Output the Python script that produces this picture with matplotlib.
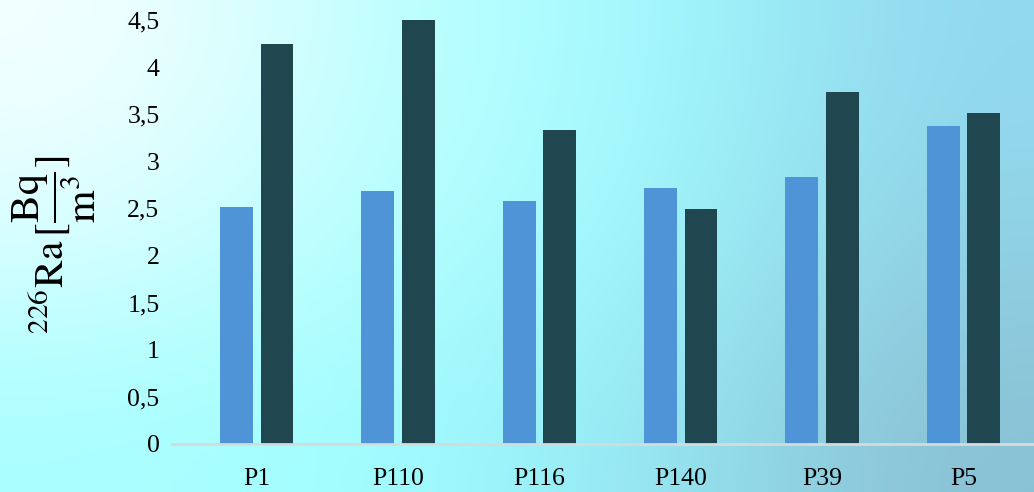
import numpy as np
import matplotlib
matplotlib.use("Agg")
import matplotlib.pyplot as plt
from matplotlib.colors import to_rgb

categories = ["P1", "P110", "P116", "P140", "P39", "P5"]
series_a = [2.52, 2.69, 2.58, 2.72, 2.83, 3.37]
series_b = [4.25, 4.50, 3.33, 2.49, 3.74, 3.51]
yticks = [0, 0.5, 1, 1.5, 2, 2.5, 3, 3.5, 4, 4.5]
ytick_labels = ["0", "0,5", "1", "1,5", "2", "2,5", "3", "3,5", "4", "4,5"]

plt.rcParams['mathtext.fontset'] = 'stix'
W, H = 1034, 492
fig = plt.figure(figsize=(W / 100, H / 100), dpi=100)

# background gradient
bg = fig.add_axes([0, 0, 1, 1])
anchors = [
    ["#F4FFFF", "#BEFFFF", "#A2FCFF", "#92D8EE"],
    ["#D8FFFF", "#B4FFFF", "#9EF8FC", "#90D0E4"],
    ["#AAFFFF", "#A0FEFF", "#96E8F4", "#8AC0D4"],
]
arr = np.array([[to_rgb(c) for c in row] for row in anchors])
bg.imshow(arr, aspect='auto', interpolation='bicubic', extent=[0, 1, 0, 1])
bg.set_axis_off()

ax = fig.add_axes([172 / W, 1 - 444 / H, 1 - 172 / W, (444 - 20) / H])
ax.patch.set_alpha(0)
x = np.arange(len(categories))
w = 0.232
ax.bar(x - 0.143, series_a, width=w, color="#5094D8")
ax.bar(x + 0.143, series_b, width=w, color="#20474F")
ax.set_xlim(-0.6, 5.5)
ax.set_ylim(0, 4.5)
ax.set_yticks(yticks)
ax.set_yticklabels(ytick_labels)
ax.set_xticks(x)
ax.set_xticklabels(categories)
for s in ["top", "right", "left"]:
    ax.spines[s].set_visible(False)
ax.spines["bottom"].set_color("#D9D9D9")
ax.spines["bottom"].set_linewidth(2)
ax.tick_params(axis='both', length=0, labelsize=18.5, labelcolor="black")
ax.tick_params(axis='y', pad=9)
ax.tick_params(axis='x', pad=17)
for lab in ax.get_xticklabels() + ax.get_yticklabels():
    lab.set_fontfamily("Liberation Serif")

fig.text(54 / W, 1 - 245 / H,
         r"$^{226}\mathrm{Ra}\,[\dfrac{\mathrm{Bq}}{\mathrm{m}^{3}}]$",
         fontsize=30, rotation=90, ha='center', va='center')

fig.savefig("out.png", dpi=100)
